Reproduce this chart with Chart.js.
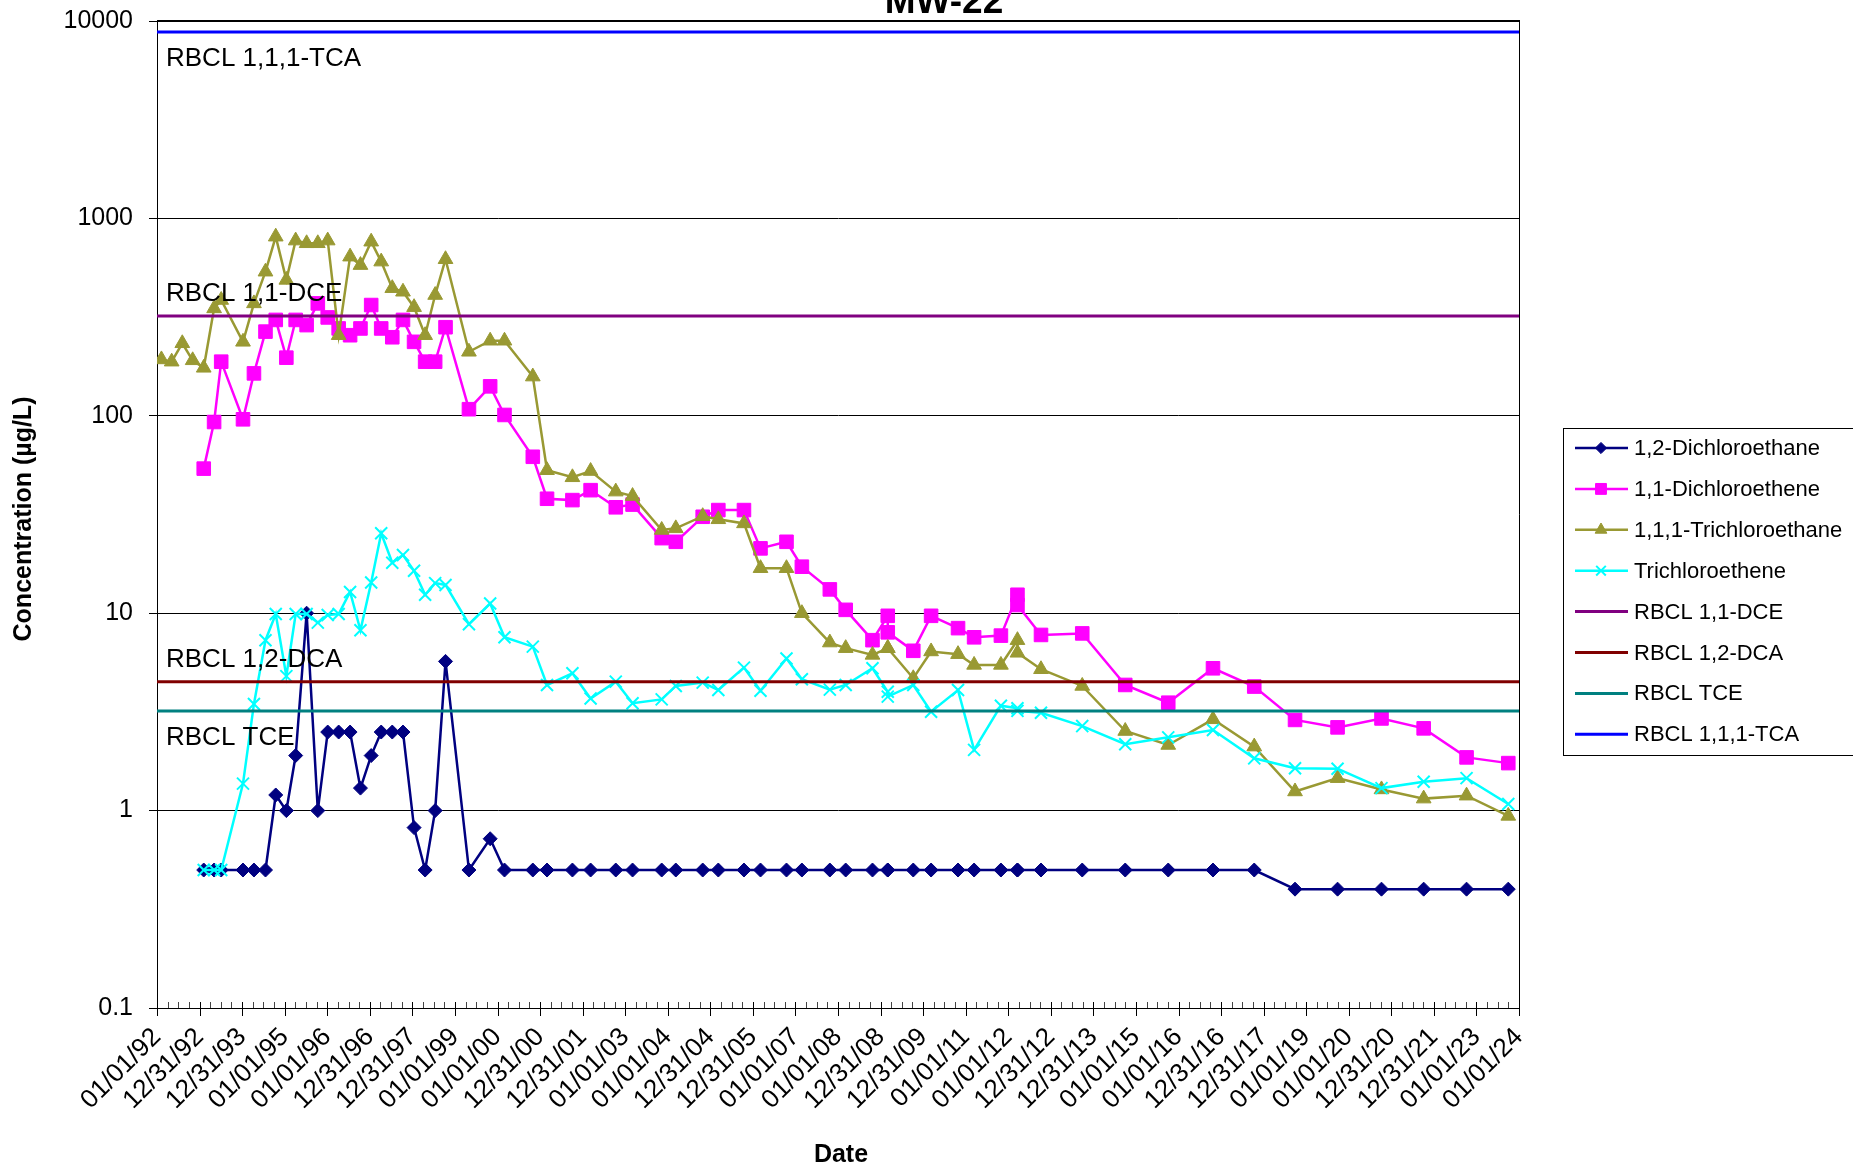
<!DOCTYPE html>
<html>
<head>
<meta charset="utf-8">
<title>MW-22</title>
<script src="https://cdn.jsdelivr.net/npm/chart.js@4.4.1/dist/chart.umd.min.js"></script>
<style>
  html, body { margin: 0; padding: 0; background: #fff; }
</style>
</head>
<body>
<canvas id="myChart" width="1853" height="1168"></canvas>
<script>
// sample dates (two samples on 2009-03 and 2012-03)
const sampleDates = [
  '1992-02-08', '1992-05-06', '1992-08-05', '1992-11-02',
  '1993-02-05', '1993-05-05', '1993-07-05',
  '1994-01-08', '1994-04-12', '1994-07-20', '1994-10-16',
  '1995-01-15', '1995-04-05', '1995-07-08', '1995-10-12',
  '1996-01-05', '1996-04-08', '1996-07-15', '1996-10-12',
  '1997-01-12', '1997-04-08', '1997-07-12', '1997-10-12',
  '1998-01-15', '1998-04-20', '1998-07-15', '1998-10-12',
  '1999-05-01', '1999-10-30', '2000-03-01', '2000-10-30',
  '2001-03-01', '2001-10-05', '2002-03-10', '2002-10-12',
  '2003-03-05', '2003-11-10', '2004-03-10', '2004-10-27',
  '2005-03-10', '2005-10-16', '2006-03-07', '2006-10-16',
  '2007-02-25', '2007-10-23', '2008-03-07', '2008-10-23',
  '2009-03-03', '2009-03-03', '2009-10-08', '2010-03-10',
  '2010-10-27', '2011-03-14', '2011-10-30', '2012-03-20',
  '2012-03-20', '2012-10-08', '2013-09-27', '2014-10-01',
  '2015-10-05', '2016-10-23', '2017-10-12', '2018-09-27',
  '2019-09-27', '2020-10-08', '2021-10-05', '2022-10-08', '2023-10-01'
]

const dca12 = [
  null, null, null, null,
  0.5, 0.5, 0.5,
  0.5, 0.5, 0.5, 1.2,
  1.0, 1.9, 10, 1.0,
  2.5, 2.5, 2.5, 1.3,
  1.9, 2.5, 2.5, 2.5,
  0.82, 0.5, 1.0, 5.7,
  0.5, 0.72, 0.5, 0.5,
  0.5, 0.5, 0.5, 0.5,
  0.5, 0.5, 0.5, 0.5,
  0.5, 0.5, 0.5, 0.5,
  0.5, 0.5, 0.5, 0.5,
  0.5, 0.5, 0.5, 0.5,
  0.5, 0.5, 0.5, 0.5,
  0.5, 0.5, 0.5, 0.5,
  0.5, 0.5, 0.5, 0.4,
  0.4, 0.4, 0.4, 0.4, 0.4
]

const dce11 = [
  null, null, null, null,
  54, 93, 188,
  96, 164, 267, 306,
  197, 306, 288, 371,
  315, 277, 256, 277,
  364, 277, 250, 306,
  237, 188, 188, 281,
  108, 141, 101, 62,
  38, 37.4, 42, 34.4,
  35.5, 24, 23, 30.8,
  33.3, 33.3, 21.3, 23,
  17.2, 13.2, 10.4, 7.3,
  9.7, 8.0, 6.45, 9.7,
  8.4, 7.55, 7.7, 12.4,
  11.0, 7.76, 7.9, 4.33,
  3.52, 5.26, 4.25, 2.88,
  2.64, 2.93, 2.61, 1.86, 1.74
]

const tca111 = [
  193, 188, 233, 191,
  175, 350, 386,
  237, 371, 537, 808,
  488, 772, 748, 748,
  772, 256, 640, 580,
  762, 604, 443, 425,
  355, 256, 409, 621,
  211, 240, 240, 158,
  53, 48.8, 52.5, 41.3,
  39.2, 26.4, 26.9, 31,
  29.9, 28.5, 16.9, 16.9,
  10, 7.1, 6.65, 6.15,
  6.65, 6.65, 4.68, 6.4,
  6.2, 5.47, 5.47, 7.3,
  6.3, 5.2, 4.28, 2.53,
  2.15, 2.9, 2.11, 1.25,
  1.46, 1.28, 1.15, 1.19, 0.94
]

const tce = [
  null, null, null, null,
  0.5, 0.5, 0.5,
  1.37, 3.47, 7.3, 9.9,
  4.8, 9.9, 9.9, 8.96,
  9.8, 9.9, 12.8, 8.2,
  14.3, 25.4, 18, 19.7,
  16.4, 12.4, 14.2, 13.9,
  8.8, 11.2, 7.55, 6.77,
  4.33, 4.96, 3.7, 4.5,
  3.5, 3.66, 4.28, 4.45,
  4.08, 5.3, 4.05, 5.9,
  4.63, 4.1, 4.33, 5.26,
  4.0, 3.78, 4.33, 3.17,
  4.08, 2.03, 3.4, 3.3,
  3.2, 3.13, 2.68, 2.17,
  2.35, 2.56, 1.84, 1.64,
  1.63, 1.30, 1.40, 1.46, 1.08
]

const rbclNames = ['RBCL 1,1-DCE', 'RBCL 1,2-DCA', 'RBCL TCE', 'RBCL 1,1,1-TCA']
const rbclValues = [320, 4.5, 3.2, 8800]

const xTickLabels = [
  '01/01/92', '12/31/92', '12/31/93', '01/01/95', '01/01/96', '12/31/96',
  '12/31/97', '01/01/99', '01/01/00', '12/31/00', '12/31/01', '01/01/03',
  '01/01/04', '12/31/04', '12/31/05', '01/01/07', '01/01/08', '12/31/08',
  '12/31/09', '01/01/11', '01/01/12', '12/31/12', '12/31/13', '01/01/15',
  '01/01/16', '12/31/16', '12/31/17', '01/01/19', '01/01/20', '12/31/20',
  '12/31/21', '01/01/23', '01/01/24'
]
const yTickValues = [0.1, 1, 10, 100, 1000, 10000]
const yTickLabels = ['0.1', '1', '10', '100', '1000', '10000']

const FONT = "'Liberation Sans', Arial, sans-serif"

const toDay = s => {
  const [y, m, d] = s.split('-').map(Number)
  return Date.UTC(y, m - 1, d) / 864e5
}
const xMin = toDay('1992-01-01')
const xMax = toDay('2024-01-01')
const xStep = (xMax - xMin) / (xTickLabels.length - 1)

const seriesFrom = values => sampleDates
  .map((d, i) => ({ x: toDay(d), y: values[i] }))
  .filter(p => p.y !== null)

const seriesStyle = (label, color, pointStyle, radius, values, order) => ({
  label: label,
  data: seriesFrom(values),
  borderColor: color,
  backgroundColor: color,
  borderWidth: 2.5,
  pointStyle: pointStyle,
  pointRadius: radius,
  pointBorderWidth: pointStyle === 'crossRot' ? 2 : 1,
  pointBorderColor: color,
  pointBackgroundColor: color,
  order: order,
})

const rbclColors = ['#800080', '#800000', '#008080', '#0000FF']
const rbclBelow = [false, false, true, true]

const datasets = [
  seriesStyle('1,2-Dichloroethane', '#000080', 'rectRot', 7, dca12, 8),
  seriesStyle('1,1-Dichloroethene', '#FF00FF', 'rect', 9.6, dce11, 7),
  seriesStyle('1,1,1-Trichloroethane', '#999933', 'triangle', 8.5, tca111, 6),
  seriesStyle('Trichloroethene', '#00FFFF', 'crossRot', 8.5, tce, 5),
]
rbclNames.forEach((name, i) => {
  datasets.push({
    label: name,
    data: [{ x: xMin, y: rbclValues[i] }, { x: xMax, y: rbclValues[i] }],
    borderColor: rbclColors[i],
    backgroundColor: rbclColors[i],
    borderWidth: 3,
    pointRadius: 0,
    pointStyle: false,
    order: 4 - i,
  })
})

const decor = {
  id: 'decor',
  afterDraw(chart) {
    const { ctx, chartArea: a, scales: { x, y } } = chart
    ctx.save()

    // plot frame, top and right
    ctx.strokeStyle = '#000'
    ctx.lineWidth = 1
    ctx.beginPath()
    ctx.moveTo(a.left, a.top + 0.5)
    ctx.lineTo(a.right + 0.5, a.top + 0.5)
    ctx.lineTo(a.right + 0.5, a.bottom)
    ctx.stroke()
    ctx.lineWidth = 2
    ctx.beginPath()
    ctx.moveTo(a.left, a.top)
    ctx.lineTo(a.right + 1, a.top)
    ctx.stroke()

    // x axis major / minor tick marks
    ctx.lineWidth = 1
    for (let i = 0; i <= (xTickLabels.length - 1) * 4; i++) {
      const px = Math.round(x.getPixelForValue(xMin + i * xStep / 4)) + 0.5
      const major = i % 4 === 0
      ctx.strokeStyle = major ? '#000' : '#444'
      ctx.beginPath()
      ctx.moveTo(px, a.bottom - 6)
      ctx.lineTo(px, a.bottom + (major ? 8 : 0))
      ctx.stroke()
    }

    // RBCL labels
    ctx.fillStyle = '#000'
    ctx.font = '26px ' + FONT
    ctx.textAlign = 'left'
    ctx.textBaseline = 'alphabetic'
    rbclNames.forEach((name, i) => {
      const py = y.getPixelForValue(rbclValues[i])
      ctx.fillText(name, a.left + 9, py + (rbclBelow[i] ? 34 : -15))
    })

    // title (cut off at the top like the original)
    ctx.font = 'bold 37px ' + FONT
    ctx.textAlign = 'center'
    ctx.fillText('MW-22', 944, 13)

    // axis titles
    ctx.font = 'bold 25px ' + FONT
    ctx.textBaseline = 'middle'
    ctx.fillText('Date', 841, 1155)
    ctx.save()
    ctx.translate(24, 519)
    ctx.rotate(-Math.PI / 2)
    ctx.fillText('Concentration (\u00b5g/L)', 0, 0)
    ctx.restore()

    // legend box
    const lx = 1563, ly = 428, lh = 327
    ctx.strokeStyle = '#000'
    ctx.lineWidth = 1
    ctx.strokeRect(lx + 0.5, ly + 0.5, 400, lh)
    ctx.font = '22px ' + FONT
    ctx.textAlign = 'left'
    ctx.textBaseline = 'middle'
    chart.data.datasets.forEach((ds, i) => {
      const cy = ly + 20 + i * 40.9
      ctx.strokeStyle = ds.borderColor
      ctx.lineWidth = ds.pointRadius ? 2.5 : 3
      ctx.beginPath()
      ctx.moveTo(lx + 12, cy)
      ctx.lineTo(lx + 65, cy)
      ctx.stroke()
      if (ds.pointRadius) {
        ctx.fillStyle = ds.borderColor
        ctx.lineWidth = ds.pointBorderWidth
        Chart.helpers.drawPoint(ctx, {
          pointStyle: ds.pointStyle,
          radius: ds.pointRadius * 0.8,
          rotation: 0,
          borderWidth: ds.pointBorderWidth,
        }, lx + 38, cy)
      }
      ctx.fillStyle = '#000'
      ctx.fillText(ds.label, lx + 71, cy + 1)
    })

    ctx.restore()
  }
}

const ctx = document.getElementById('myChart').getContext('2d')
const chart = new Chart(ctx, {
  type: 'line',
  data: { datasets: datasets },
  plugins: [decor],
  options: {
    responsive: false,
    animation: false,
    devicePixelRatio: 1,
    layout: { padding: { top: 21, right: 334, left: 0, bottom: 0 } },
    plugins: {
      legend: { display: false },
      tooltip: { enabled: false },
      title: { display: false },
    },
    scales: {
      x: {
        type: 'linear',
        min: xMin,
        max: xMax,
        afterBuildTicks: s => {
          s.ticks = xTickLabels.map((_, i) => ({ value: xMin + i * xStep }))
        },
        afterFit: s => {
          s.height = 160
          s.paddingLeft = 0
          s.paddingRight = 0
        },
        grid: { display: true, drawOnChartArea: false, drawTicks: false },
        border: { display: true, color: '#000', width: 1 },
        ticks: {
          autoSkip: false,
          maxRotation: 45,
          minRotation: 45,
          padding: 14,
          color: '#000',
          font: { family: FONT, size: 26 },
          callback: (v, i) => xTickLabels[i],
        },
      },
      y: {
        type: 'logarithmic',
        min: 0.1,
        max: 10000,
        afterBuildTicks: s => {
          s.ticks = yTickValues.map(v => ({ value: v }))
        },
        afterFit: s => {
          s.width = 157
          s.paddingTop = 0
          s.paddingBottom = 0
        },
        grid: { color: '#000', lineWidth: 1, tickLength: 8, tickColor: '#000' },
        border: { color: '#000', width: 1 },
        ticks: {
          padding: 16,
          color: '#000',
          font: { family: FONT, size: 25 },
          callback: (v, i) => yTickLabels[i],
        },
      },
    },
  },
})
</script>
</body>
</html>
